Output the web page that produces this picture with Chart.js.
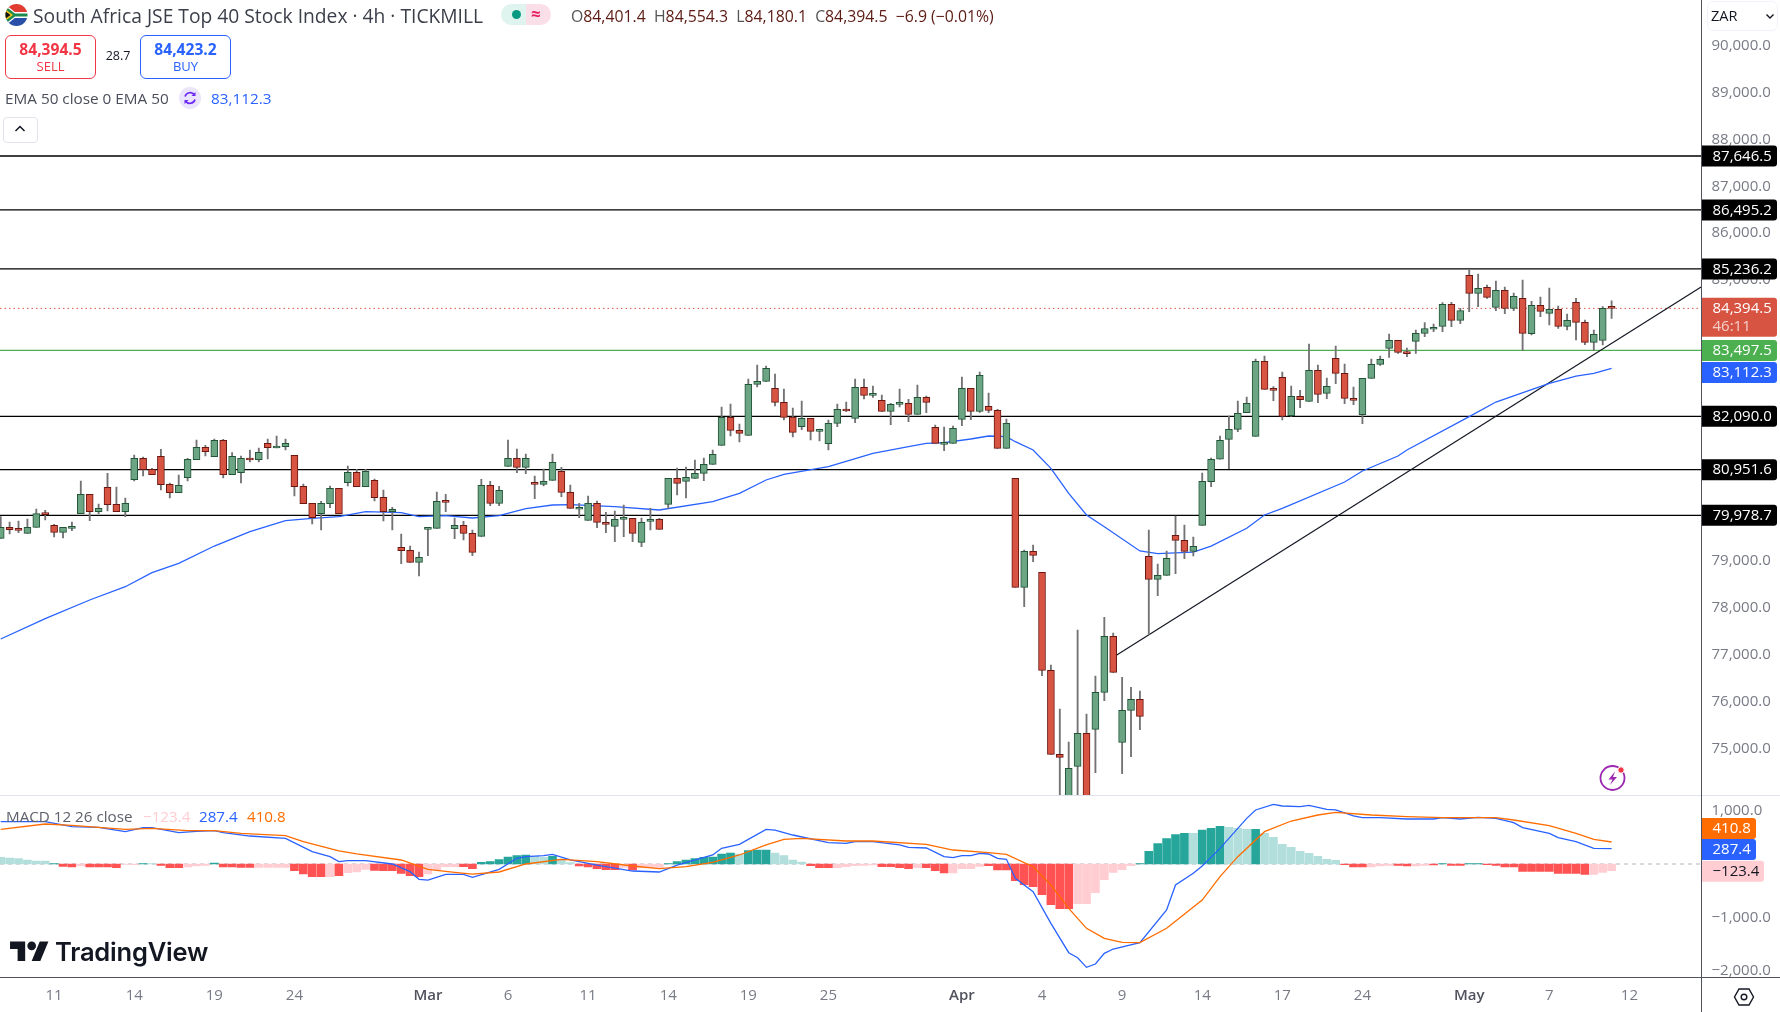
<!DOCTYPE html>
<html><head><meta charset="utf-8"><title>South Africa JSE Top 40 Stock Index</title>
<script src="https://cdn.jsdelivr.net/npm/chart.js@4"></script>
<style>
html,body{margin:0;padding:0;background:#fff;width:1780px;height:1012px;overflow:hidden;font-family:"Open Sans",sans-serif;color:#131722}
canvas{position:absolute;left:0}
.a{position:absolute;white-space:nowrap}
</style></head><body>
<canvas id="main" width="1780" height="795" style="top:0;width:1780px;height:795px"></canvas>
<canvas id="macd" width="1780" height="216" style="top:796px;width:1780px;height:216px"></canvas>
<div class="a" style="left:0;top:795px;width:1780px;height:1px;background:#e0e3eb"></div>
<div class="a" style="left:1701px;top:0;width:1px;height:1012px;background:#50535e"></div>
<div class="a" style="left:0;top:977px;width:1780px;height:1px;background:#50535e"></div>

<svg class="a" style="left:5px;top:4px" width="23" height="22" viewBox="0 0 23 22"><defs><clipPath id="c"><circle cx="11.5" cy="11" r="11"/></clipPath></defs><g clip-path="url(#c)"><rect width="23" height="8" fill="#e03c31"/><rect y="14" width="23" height="8" fill="#2a4fa8"/><rect y="8" width="23" height="6" fill="#fff"/><path d="M0 0L11 9H23V13H11L0 22Z" fill="#fff"/><path d="M0 2L10 9.5H23V12.5H10L0 20Z" fill="#1c8a4f"/><path d="M0 5L8 11L0 17Z" fill="#f5c518"/><path d="M0 7L5.5 11L0 15Z" fill="#111"/></g></svg>
<div class="a" style="left:33px;top:5px;font-size:19.25px;line-height:22px;color:#3b3f4a">South Africa JSE Top 40 Stock Index · 4h · TICKMILL</div>
<div class="a" style="left:501px;top:4px;width:25px;height:21px;background:#dff3ef;border-radius:11px 0 0 11px"></div>
<div class="a" style="left:526px;top:4px;width:25px;height:21px;background:#fbdfe8;border-radius:0 11px 11px 0"></div>
<div class="a" style="left:512px;top:10px;width:9px;height:9px;background:#089981;border-radius:50%"></div>
<div class="a" style="left:531px;top:3px;font-size:17px;line-height:22px;font-weight:700;color:#e91e63">≈</div>
<div class="a" style="left:571px;top:6px;font-size:15.8px;line-height:20px;color:#5b1a13"><span style="color:#555">O</span>84,401.4&nbsp; <span style="color:#555">H</span>84,554.3&nbsp; <span style="color:#555">L</span>84,180.1&nbsp; <span style="color:#555">C</span>84,394.5&nbsp; −6.9 (−0.01%)</div>

<div class="a" style="left:5px;top:35px;width:89px;height:42px;border:1px solid #f23645;border-radius:6px"></div>
<div class="a" style="left:5px;top:40px;width:91px;text-align:center;font-size:15.6px;line-height:18px;font-weight:700;color:#f23645">84,394.5</div>
<div class="a" style="left:5px;top:58px;width:91px;text-align:center;font-size:13px;line-height:16px;color:#f23645">SELL</div>
<div class="a" style="left:100px;top:47px;width:36px;text-align:center;font-size:12.5px;line-height:18px;color:#131722">28.7</div>
<div class="a" style="left:140px;top:35px;width:89px;height:42px;border:1px solid #2962ff;border-radius:6px"></div>
<div class="a" style="left:140px;top:40px;width:91px;text-align:center;font-size:15.6px;line-height:18px;font-weight:700;color:#2962ff">84,423.2</div>
<div class="a" style="left:140px;top:58px;width:91px;text-align:center;font-size:13px;line-height:16px;color:#2962ff">BUY</div>

<div class="a" style="left:5px;top:88px;font-size:15.3px;line-height:20px;color:#4a4e5a">EMA 50 close 0 EMA 50</div>
<svg class="a" style="left:179px;top:87px" width="22" height="22" viewBox="0 0 22 22"><circle cx="11" cy="11" r="11" fill="#ebe4fd"/><path d="M6 9.5A5.3 5.3 0 0 1 15.5 8M16 12.5A5.3 5.3 0 0 1 6.5 14" fill="none" stroke="#6d28f5" stroke-width="1.7"/><path d="M16.5 5v4h-4zM5.5 17v-4h4z" fill="#6d28f5"/></svg>
<div class="a" style="left:211px;top:88px;font-size:15.3px;line-height:20px;color:#2962ff">83,112.3</div>
<div class="a" style="left:3px;top:117px;width:33px;height:24px;border:1px solid #e0e3eb;border-radius:4px"></div>
<svg class="a" style="left:14px;top:124px" width="12" height="9" viewBox="0 0 12 9"><path d="M1.5 7L6 2.5L10.5 7" fill="none" stroke="#131722" stroke-width="1.5"/></svg>

<div class="a" style="left:1707px;top:1px;width:71px;height:30px;border:1px solid #f0f3fa;border-radius:6px;box-sizing:border-box"></div>
<div class="a" style="left:1711px;top:7px;font-size:14.5px;line-height:18px;color:#131722">ZAR</div>
<svg class="a" style="left:1765px;top:13px" width="10" height="7" viewBox="0 0 10 7"><path d="M1.5 1.5L5 5L8.5 1.5" fill="none" stroke="#131722" stroke-width="1.4"/></svg>

<svg class="a" style="left:1597px;top:762px" width="34" height="32" viewBox="0 0 34 32"><circle cx="15.5" cy="16" r="12" fill="none" stroke="#9c27b0" stroke-width="1.8"/><path d="M18 9.5L11.5 17.5H15.5L13 23L20 15H16Z" fill="#9c27b0"/><circle cx="24" cy="8" r="3.2" fill="#f23645" stroke="#fff" stroke-width="1"/></svg>

<div class="a" style="left:6px;top:806px;font-size:15.2px;line-height:20px;color:#5d606b">MACD 12 26 close</div>
<div class="a" style="left:143px;top:806px;font-size:15.2px;line-height:20px;color:#ffcdd2">−123.4</div>
<div class="a" style="left:199px;top:806px;font-size:15.2px;line-height:20px;color:#2962ff">287.4</div>
<div class="a" style="left:247px;top:806px;font-size:15.2px;line-height:20px;color:#ff6d00">410.8</div>

<svg class="a" style="left:10px;top:941px" width="39" height="20" viewBox="0 0 36 18.5"><path d="M14 18.5H7V7.5H0V0.5h14zM28 18.5h-8l7.5-18h8z" fill="#131722"/><circle cx="20" cy="4.5" r="4" fill="#131722"/></svg>
<div class="a" style="left:55px;top:936px;font-size:25.5px;line-height:32px;font-weight:600;letter-spacing:-.2px;color:#131722;font-family:Inter,Roboto,sans-serif">TradingView</div>

<svg class="a" style="left:1733px;top:986px" width="22" height="22" viewBox="0 0 22 22"><path d="M6 3H16L20.500 11L16 19H6L1.500 11Z" fill="none" stroke="#131722" stroke-width="1.4"/><circle cx="11" cy="11" r="2.8" fill="none" stroke="#131722" stroke-width="1.4"/></svg>

<script>
const opens=[79487,79722,79700,79594,79722,80034,79765,79615,79701,80013,80426,80056,80575,80213,80056,80739,81194,80959,81237,80639,80462,80782,81166,81429,81230,81578,80846,80888,81201,81166,81514,81415,81443,81258,80597,80234,80013,80227,80554,80675,80895,80590,80725,80362,80056,79295,79231,78975,79680,79701,80298,79694,79765,79594,79530,80619,80234,81024,81195,81003,80682,80640,80725,80917,80469,80107,79872,80234,79829,79744,79893,79914,79402,79850,79893,80213,80768,80704,80768,80875,81067,81472,82070,81792,81685,82774,82838,82688,82390,82077,81870,82047,81770,81507,81941,82246,82047,82709,82538,82432,82197,82347,82368,82133,82496,81855,81493,81514,82026,82688,82197,82304,82218,81407,80768,78442,79210,78762,76671,74878,73800,74622,75326,75412,76201,77396,75134,75817,76052,79103,78613,78698,79551,79445,79210,79765,80695,81174,81600,81813,82169,81664,83264,82688,82923,82105,82518,82411,83072,82582,83328,83008,82475,82126,82902,83200,83542,83712,83470,83691,83862,83948,84011,84481,84139,85100,84716,84844,84417,84780,84395,84609,83855,84460,84289,84374,84011,84524,84097,83670,83713,84401.4];
const highs=[79949,79836,79857,79900,80113,80085,79786,79722,79836,80711,80426,80220,80874,80583,80348,81265,81223,80981,81386,80668,80839,81194,81585,81472,81607,81600,81315,81244,81372,81415,81607,81671,81607,81258,80647,80234,80277,80604,80554,81031,80959,80959,80753,80518,80149,79580,79324,79196,79722,80476,80426,79921,79850,79665,80747,80704,80597,81586,81394,81287,80818,80967,81287,81003,80626,80234,80391,80284,80042,80071,80199,79914,79921,80128,79914,80768,80988,81010,81159,81202,81372,82290,82354,81927,82888,83186,83165,82994,82674,82269,82417,82047,81820,82012,82353,82396,82887,82887,82737,82545,82368,82673,82453,82759,82524,81905,81863,81884,82929,82688,83036,82588,82239,82033,80768,79238,79345,78762,76784,75846,75141,77531,75739,76550,77802,77467,76521,76308,76230,79665,78940,79217,79964,79772,79516,80882,81201,81671,82098,82418,82503,83314,83378,82724,83037,82738,82646,83634,83186,82909,83592,83207,82717,82902,83314,83378,83848,83712,83549,83933,84090,84061,84516,84524,84395,85228,85128,84893,84979,84851,84723,85000,84545,84637,84829,84445,84275,84609,84147,83933,84431,84554.3];
const lows=[79487,79580,79608,79594,79722,79878,79516,79494,79651,80013,79864,80013,80070,80056,79949,80711,80817,80846,80518,80348,80462,80711,81166,81244,81230,80775,80846,80668,81116,81116,81180,81415,81372,80390,80227,79793,79665,80142,80013,80604,80590,80590,80284,79857,79665,78947,78975,78684,79118,79701,80057,79480,79452,79118,79530,80185,80185,81024,80889,80867,80334,80604,80725,80377,80128,79929,79872,79715,79608,79416,79523,79416,79310,79665,79680,80128,80412,80348,80768,80718,81067,81472,81671,81543,81685,82717,82838,82311,82013,81650,81806,81585,81564,81372,81870,82190,81955,82460,82496,82197,81912,82289,81976,82133,82168,81514,81357,81514,81891,82019,82175,82168,81407,81407,78442,78029,78990,76557,74878,73900,73600,73900,73500,74487,76023,76628,74466,74828,75405,77439,78264,78698,78733,79054,79110,79765,80589,81174,80973,81764,82169,81664,82667,82425,82012,82091,82276,82411,82382,82468,82788,82361,82340,81934,82902,83179,83350,83435,83364,83435,83791,83898,83898,84004,84068,84324,84431,84609,84346,84282,84346,83499,83826,84218,84040,83969,83933,83720,83620,83499,83613,84180.1];
const closes=[79722,79672,79658,79722,80013,79992,79615,79722,79743,80426,80056,80127,80206,80056,80234,81194,80952,80846,80632,80462,80618,81173,81429,81336,81578,80846,81237,81194,81159,81322,81422,81457,81514,80590,80227,79928,80234,80554,80013,80895,80590,80917,80355,80056,80106,79224,78975,79082,79722,80277,80256,79765,79594,79189,80619,80234,80512,81195,81003,81195,80640,80704,81109,80469,80128,80149,80234,79829,79786,79893,79935,79594,79829,79893,79680,80768,80661,80789,80875,81067,81280,82070,81792,81728,82774,82838,83115,82390,82070,81749,82047,81770,81812,81941,82239,82204,82709,82538,82581,82197,82346,82389,82133,82496,82389,81514,81535,81834,82688,82197,82965,82218,81407,81941,78442,79210,79125,76671,74878,74814,74579,75326,73700,76201,77396,76628,75817,76052,75689,78613,78698,79061,79445,79210,79317,80704,81174,81579,81813,82155,82368,83264,82667,82646,82091,82518,82446,83072,82560,82731,83008,82475,82432,82902,83200,83307,83712,83456,83428,83862,83962,83990,84481,84139,84346,84716,84822,84630,84780,84395,84652,83862,84460,84331,84374,84011,84139,84097,83670,83841,84395,84394.5];

const emaIndex=[0,5,10,14,17,20,24,28,32,35,38,41,45,47,50,53,56,59,62,64,69,74,80,83,86,88,93,98,102,104,106,109,111,113,114,116,118,120,122,124,128,130,134,136,140,142,144,151,153,157,158,165,168,174,177,179,181];
const emaValues=[77339,77774,78171,78455,78754,78954,79323,79629,79863,79914,79949,80055,80034,79949,79970,79921,79970,80119,80198,80205,80162,80092,80269,80448,80732,80853,81016,81302,81442,81515,81528,81607,81671,81656,81549,81372,80981,80448,79985,79735,79217,79159,79195,79323,79701,79985,80128,80689,80924,81244,81372,82083,82396,82795,82951,83009,83112.3];

const blackLevels=[87646.5,86495.2,85236.2,82090.0,80951.6,79978.7];
const greenLevel=83497.5;
const lastPrice=84394.5;
const trendIndex=[125.4,191.1];
const trendValues=[76998,84857];

const priceTicks=[90000,89000,88000,87000,86000,85000,84000,83000,82000,81000,80000,79000,78000,77000,76000,75000];
const macdTicks=[1000,-1000,-2000];
const timeTickIndex=[6,15,24,33,48,57,66,75,84,93,108,117,126,135,144,153,165,174,183];
const timeTickLabels=['11','14','19','24','Mar','6','11','14','19','25','Apr','4','9','14','17','24','May','7','12'];

const histValues=[124,112,100,75,56,56,6,-44,-56,-37,-56,-56,-56,-68,-6,-12,6,6,-25,-68,-68,-56,-37,-25,19,-56,-56,-62,-62,-62,-62,-62,-62,-124,-187,-236,-236,-236,-218,-162,-149,-100,-118,-124,-124,-174,-218,-236,-187,-112,-50,-50,-50,-87,31,44,81,131,156,168,143,124,143,93,25,-37,-56,-87,-106,-106,-62,-112,-75,-68,-62,6,44,75,100,124,131,187,205,187,249,261,261,205,156,75,37,-31,-68,-68,-68,-50,-31,-25,-19,-50,-50,-68,-87,-68,-68,-124,-168,-168,-87,-87,-44,-31,-112,-112,-311,-386,-423,-572,-759,-833,-833,-740,-740,-535,-292,-156,-106,-31,6,236,379,473,547,572,572,634,666,703,684,666,647,647,572,498,367,311,236,199,143,87,68,-12,-56,-56,-56,-37,-25,-25,-37,-37,-25,-19,6,-25,-25,6,6,-12,-25,-56,-56,-137,-137,-137,-137,-174,-174,-174,-193,-193,-156,-123.4];
const histKinds="LLLLLLGRRPRRRRPPGLRRRPPPGRRRRPPPPRRRRPRPPPRRRRRRPPPPRRGGGGGGLLGLLRRRRRPRPPPGGGGGGGGLGGGLLLLRRRPPPPPRRRRPRRRPPPPRRRRRRRRRRPPPPPPPGGGGGGLGGGLLLGLLLLLLLLLRRRPPPRRPPRGRRGGRRRRRRRRRRRRPPP".split('');

const macdBlueIndex=[0,5,8,11,14,16,17,20,22,24,25,28,32,35,37,38,39,41,44,46,47,48,50,52,53,56,58,59,61,62,64,67,71,74,76,80,81,83,86,87,89,93,95,96,98,101,102,104,106,107,108,109,110,111,112,113,114,116,118,120,121,122,123,124,125,128,131,132,134,135,137,140,141,143,144,146,147,149,150,152,153,155,158,161,162,164,166,168,170,171,174,175,177,179,181];
const macdBlueValues=[790,790,697,684,603,678,678,585,610,622,585,522,479,230,137,44,62,62,0,-143,-286,-299,-193,-193,-249,-100,106,137,156,180,75,-19,-131,-149,-19,168,292,367,647,634,541,398,386,417,417,355,311,299,137,118,156,156,199,187,106,87,-267,-516,-1107,-1655,-1748,-1928,-1866,-1667,-1586,-1468,-858,-392,-174,-37,292,852,1008,1113,1082,1070,1095,1020,1008,896,865,865,840,840,865,840,871,852,771,678,572,491,417,292,287.4];
const macdOrangeIndex=[0,5,8,14,17,21,24,27,32,34,38,40,45,48,51,53,56,59,63,67,71,74,77,80,83,86,88,90,95,98,104,107,111,113,116,118,120,122,124,126,128,131,135,137,139,142,145,148,150,154,158,162,168,170,174,177,179,181];
const macdOrangeValues=[647,746,721,647,665,622,622,572,529,417,243,187,75,-100,-155,-187,-149,0,87,44,-37,-87,-50,31,168,355,460,479,429,429,367,261,211,180,-50,-392,-827,-1200,-1387,-1462,-1468,-1200,-672,-236,137,603,802,914,964,914,883,865,865,821,715,572,460,410.8];

const priceTagValues=[87646.5,86495.2,85236.2,84394.5,83497.5,83112.3,82090.0,80951.6,79978.7];
const priceTagText=['87,646.5','86,495.2','85,236.2','84,394.5','83,497.5','83,112.3','82,090.0','80,951.6','79,978.7'];
const priceTagFill=['#000','#000','#000','#d75442','#4caf50','#2962ff','#000','#000','#000'];
const priceTagShift=[0,0,0,0,0,4,0,0,0];
const macdTagValues=[410.8,287.4,-123.4];
const macdTagText=['410.8','287.4','−123.4'];
const macdTagFill=['#ff6d00','#2962ff','#ffcdd2'];
const macdTagInk=['#fff','#fff','#131722'];
const macdTagShift=[-13.5,1,0.7];
const macdTagRight=[1756,1756,1764];

const xMin=-0.08, xMax=191.1;
const FONT='"Open Sans", sans-serif';
const GREEN='#6ba583',GREENB='#225437',RED='#d75442',REDB='#6b1813',WICK='#737375';
const isUp=i=>closes[i]>=opens[i];
const idx=opens.map((_,i)=>i);

function box(ctx,x0,y0,x1,y1,fill){
  ctx.fillStyle=fill;ctx.beginPath();ctx.roundRect(x0,y0,x1-x0,y1-y0,[0,3,3,0]);ctx.fill();
}
const priceTagPlugin={id:'priceTags',afterDraw(chart){
  const c=chart.ctx,s=chart.scales.y,xl=chart.chartArea.right;
  c.save();c.textBaseline='middle';c.textAlign='left';
  priceTagValues.forEach((v,k)=>{
    const y=s.getPixelForValue(v)+priceTagShift[k];
    if(k===3){
      box(c,xl,y-10.5,1777,y+28.5,priceTagFill[k]);
      c.font='15px '+FONT;c.fillStyle='#fff';c.fillText(priceTagText[k],xl+11,y+0.5);
      c.fillStyle='rgba(255,255,255,.72)';c.fillText('46:11',xl+11,y+18);
    }else{
      box(c,xl,y-10.5,1777,y+10.5,priceTagFill[k]);
      c.font='15px '+FONT;c.fillStyle='#fff';c.fillText(priceTagText[k],xl+11,y+0.5);
    }
  });
  c.restore();
}};
const macdTagPlugin={id:'macdTags',afterDraw(chart){
  const c=chart.ctx,s=chart.scales.y,xl=chart.chartArea.right;
  c.save();c.textBaseline='middle';c.textAlign='left';c.font='15px '+FONT;
  macdTagValues.forEach((v,k)=>{
    const y=s.getPixelForValue(v)+macdTagShift[k];
    box(c,xl,y-10.5,macdTagRight[k],y+10.5,macdTagFill[k]);
    c.fillStyle=macdTagInk[k];c.fillText(macdTagText[k],xl+11,y+0.5);
  });
  c.restore();
}};
const fitY=(w)=>function(scale){scale.width=w;scale.paddingTop=0;scale.paddingBottom=0;};

const levelLine=(v,color,width,dash)=>({type:'line',data:[{x:xMin,y:v},{x:xMax,y:v}],borderColor:color,borderWidth:width,borderDash:dash||[],pointRadius:0,tension:0,order:6});

new Chart(document.getElementById('main'),{
  type:'bar',
  data:{datasets:[
    {type:'bar',label:'body',data:idx.map(i=>({x:i,y:[opens[i],closes[i]]})),backgroundColor:idx.map(i=>isUp(i)?GREEN:RED),borderColor:idx.map(i=>isUp(i)?GREENB:REDB),borderWidth:1,borderSkipped:false,barThickness:7,minBarLength:2,grouped:false,order:1},
    {type:'bar',label:'wick',data:idx.map(i=>({x:i,y:[lows[i],highs[i]]})),backgroundColor:WICK,borderWidth:0,barThickness:1.2,grouped:false,order:2},
    {type:'line',label:'EMA 50',data:emaIndex.map((x,k)=>({x,y:emaValues[k]})),borderColor:'#2962ff',borderWidth:1.3,pointRadius:0,tension:0,order:3},
    {type:'line',label:'Trend',data:trendIndex.map((x,k)=>({x,y:trendValues[k]})),borderColor:'#131722',borderWidth:1.2,pointRadius:0,tension:0,order:4},
    ...blackLevels.map(v=>levelLine(v,'#000',1.3)),
    levelLine(greenLevel,'#4caf50',1.2),
    levelLine(lastPrice,'#d75442',1,[1.500,3])
  ]},
  options:{
    responsive:false,animation:false,devicePixelRatio:1,
    layout:{padding:0},
    plugins:{legend:{display:false},tooltip:{enabled:false}},
    events:[],
    scales:{
      x:{type:'linear',display:false,offset:false,min:xMin,max:xMax,grid:{display:false}},
      y:{type:'linear',position:'right',min:74010,max:90975,
        grid:{display:false,drawTicks:false},border:{display:false},
        afterBuildTicks(s){s.ticks=priceTicks.map(value=>({value}));},
        afterFit:fitY(78.5),
        ticks:{autoSkip:false,padding:10,color:'#787b86',font:{family:FONT,size:15},
          callback:v=>v.toLocaleString('en-US',{minimumFractionDigits:1,maximumFractionDigits:1})}}
    }
  },
  plugins:[priceTagPlugin]
});

const HIST={G:'#26a69a',L:'#b2dfdb',R:'#ff5252',P:'#ffcdd2'};
new Chart(document.getElementById('macd'),{
  type:'bar',
  data:{datasets:[
    {type:'line',label:'MACD',data:macdBlueIndex.map((x,k)=>({x,y:macdBlueValues[k]})),borderColor:'#2962ff',borderWidth:1.3,pointRadius:0,tension:0,order:1},
    {type:'line',label:'Signal',data:macdOrangeIndex.map((x,k)=>({x,y:macdOrangeValues[k]})),borderColor:'#ff6d00',borderWidth:1.3,pointRadius:0,tension:0,order:0},
    {type:'bar',label:'Histogram',data:histValues.map((y,x)=>({x,y})),backgroundColor:histKinds.map(k=>HIST[k]),borderWidth:0,barThickness:8,grouped:false,order:2},
    {type:'line',label:'Zero',data:[{x:xMin,y:0},{x:xMax,y:0}],borderColor:'#b2b5be',borderWidth:1,borderDash:[4,4],pointRadius:0,tension:0,order:3}
  ]},
  options:{
    responsive:false,animation:false,devicePixelRatio:1,
    layout:{padding:0},
    plugins:{legend:{display:false},tooltip:{enabled:false}},
    events:[],
    scales:{
      x:{type:'linear',offset:false,min:xMin,max:xMax,grid:{display:false,drawTicks:false},border:{display:false},
        afterBuildTicks(s){s.ticks=timeTickIndex.map((value,k)=>({value,major:/[A-Z]/.test(timeTickLabels[k])}));},
        afterFit(s){s.height=34.5;},
        ticks:{autoSkip:false,maxRotation:0,padding:9,color:c=>c.tick&&c.tick.major?'#50535e':'#787b86',
          font:c=>({family:FONT,size:15,weight:c.tick&&c.tick.major?'600':'400'}),
          callback:(v,i)=>timeTickLabels[i]}},
      y:{type:'linear',position:'right',min:-2117.5,max:1268.7,
        grid:{display:false,drawTicks:false},border:{display:false},
        afterBuildTicks(s){s.ticks=macdTicks.map(value=>({value}));},
        afterFit:fitY(78.5),
        ticks:{autoSkip:false,padding:10,color:'#787b86',font:{family:FONT,size:15},
          callback:v=>v.toLocaleString('en-US',{minimumFractionDigits:1,maximumFractionDigits:1}).replace('-','−')}}
    }
  },
  plugins:[macdTagPlugin]
});
</script>
</body></html>
